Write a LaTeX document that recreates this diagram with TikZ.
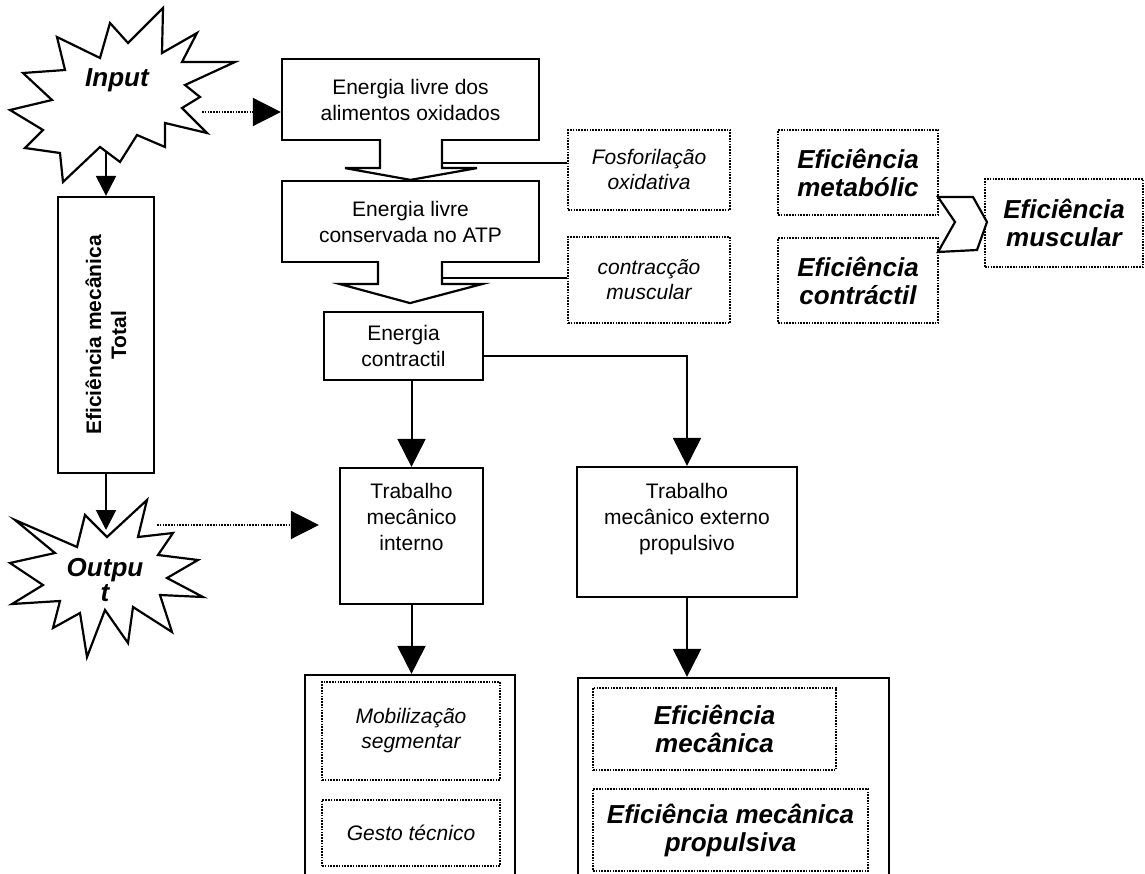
\documentclass[tikz,border=0pt]{standalone}
\usepackage{fontspec}
\setmainfont{Liberation Sans}
\usetikzlibrary{positioning, calc, arrows.meta}
\tikzset{
    base/.style={
        font=\fontsize{21}{26}\selectfont,
        align=center,
        inner sep=0pt
    },
    stage/.style={
        base,
        rectangle,
        draw,
        line width=2.2pt,
        fill=white
    },
    note/.style={
        base,
        rectangle,
        draw,
        line width=1.6pt,
        dash pattern=on 1.6pt off 1.2pt,
        font=\fontsize{21}{25}\selectfont\itshape
    },
    keynote/.style={
        note,
        font=\fontsize{26}{28}\selectfont\bfseries\itshape
    },
    burst/.style={
        draw,
        line width=2.2pt,
        fill=white,
        line join=miter
    },
    bursttext/.style={
        base,
        font=\fontsize{26}{25}\selectfont\bfseries\itshape
    },
    blockarrow/.style={
        line width=2.2pt,
        fill=white,
        line join=miter
    },
    flow/.style={
        -{Triangle[length=28pt, width=28pt]},
        line width=2pt
    },
    smallflow/.style={
        -{Triangle[length=20pt, width=20pt]},
        line width=2pt
    },
    dotflow/.style={
        flow,
        line width=1.6pt,
        dash pattern=on 1.6pt off 1.2pt
    },
    link/.style={
        line width=2pt
    }
}

\begin{document}
\begin{tikzpicture}[x=1pt, y=-1pt]
  \path[use as bounding box, fill=white] (0,0) rectangle (1145,874);

  % Input
  \draw[burst] (57,37) -- (100,58) -- (110,23) -- (128,43) -- (163,8) -- (162,53)
    -- (197,33) -- (182,62) -- (235,62) -- (185,85) -- (200,97) -- (182,108)
    -- (207,133) -- (165,123) -- (165,147) -- (137,135) -- (120,162) -- (100,147)
    -- (63,182) -- (60,153) -- (25,148) -- (43,130) -- (10,110) -- (52,100)
    -- (23,73) -- (65,70) -- cycle;
  \node[bursttext] (input) at (117,80) {Input};
  \coordinate (inputS) at (106,151);
  \coordinate (inputE) at (202,112);

  % Output
  \draw[burst] (15,520) -- (77,547) -- (85,515) -- (107,537) -- (147,500) -- (138,537)
    -- (173,533) -- (158,555) -- (198,560) -- (167,578) -- (203,597) -- (160,595)
    -- (172,632) -- (133,607) -- (128,643) -- (105,610) -- (87,657) -- (80,613)
    -- (53,628) -- (60,601) -- (12,604) -- (43,585) -- (10,563) -- (55,553) -- cycle;
  \node[bursttext] (output) at (105,580) {Outpu\\t};
  \coordinate (outputN) at (106,530);
  \coordinate (outputE) at (157,525);

  % Total
  \node[stage, minimum width=96pt, minimum height=276pt] (total) at (106,335) {};
  \node[base, font=\fontsize{21}{25}\selectfont\bfseries, rotate=90] (totaltxt) at (total.center) {Eficiência mecânica\\Total};
  \draw[smallflow] (inputS) -- (total.north);
  \draw[smallflow] (total.south) -- (outputN);

  % Energia
  \node[stage, minimum width=257pt, minimum height=81pt] (food) at (410.5,99.5) {Energia livre dos\\alimentos oxidados};
  \node[stage, minimum width=257pt, minimum height=81pt] (atp) at (410.5,221.5) {Energia livre\\conservada no ATP};
  \node[stage, minimum width=159pt, minimum height=68pt] (contract) at (403.5,346) {Energia\\contractil};
  \draw[dotflow] (inputE) -- (inputE -| food.west);

  \draw[blockarrow] ($(food.south)+(-30.5,-2)$) -- ++(0,29) -- ++(-35,0) -- (atp.north)
    -- ($(food.south)+(66.5,27)$) -- ++(-35,0) -- ++(0,-29);
  \draw[blockarrow] ($(atp.south)+(-32.5,-2)$) -- ++(0,23) -- ++(-38,0) -- ($(atp.south)+(-0.5,40)$)
    -- ($(atp.south)+(71.5,21)$) -- ++(-40,0) -- ++(0,-23);

  % Notes
  \node[note, minimum width=162pt, minimum height=80pt] (fos) at (649,170) {Fosforilação\\oxidativa};
  \node[note, minimum width=162pt, minimum height=86pt] (contr) at (649,280) {contracção\\muscular};
  \coordinate (foodtap) at ($(food.south)+(31.5,22)$);
  \coordinate (atptap) at ($(atp.south)+(31.5,15)$);
  \draw[link] (foodtap) -- (foodtap -| fos.west);
  \draw[link] (atptap) -- (atptap -| contr.west);

  % Eficiencias
  \node[keynote, minimum width=160pt, minimum height=85pt] (metab) at (858,172.5) {Eficiência\\metabólic};
  \node[keynote, minimum width=160pt, minimum height=85pt] (contr2) at (858,280.5) {Eficiência\\contráctil};
  \node[keynote, minimum width=158pt, minimum height=88pt] (musc) at (1064,223) {Eficiência\\muscular};
  \draw[blockarrow] (938,197) -- (973,197) -- (987,222) -- (977,250) -- (938,252) -- (955,222) -- cycle;

  % Trabalho
  \node[stage, minimum width=143pt, minimum height=136pt] (tmi) at (411.5,536) {};
  \node[base, below=16pt of tmi.north] (tmitxt) {Trabalho\\mecânico\\interno};
  \node[stage, minimum width=220pt, minimum height=130pt] (tme) at (687,532) {};
  \node[base, below=17pt of tme.north] (tmetxt) {Trabalho\\mecânico externo\\propulsivo};
  \draw[flow] (contract.south -| tmi.north) -- (tmi.north);
  \draw[flow] ($(contract.east)+(0,10)$) -| (tme.north);
  \draw[dotflow, shorten >=20pt] (outputE) -- (outputE -| tmi.west);

  % Segmentar
  \node[stage, minimum width=210pt, minimum height=201pt] (seg) at (410,775.5) {};
  \node[note, minimum width=178pt, minimum height=98pt] (mob) at (411,731) {Mobilização\\segmentar};
  \node[note, minimum width=178pt, minimum height=66pt] (gesto) at (411,833) {Gesto técnico};
  \draw[flow] (tmi.south) -- (tmi.south |- seg.north);

  % Externo
  \node[stage, minimum width=311pt, minimum height=198pt] (ext) at (733.5,777) {};
  \node[keynote, minimum width=243pt, minimum height=82pt] (emec) at (714.5,729) {Eficiência\\mecânica};
  \node[keynote, minimum width=275pt, minimum height=82pt] (eprop) at (730.5,830) {Eficiência mecânica\\propulsiva};
  \draw[flow] (tme.south) -- (tme.south |- ext.north);
\end{tikzpicture}
\end{document}
